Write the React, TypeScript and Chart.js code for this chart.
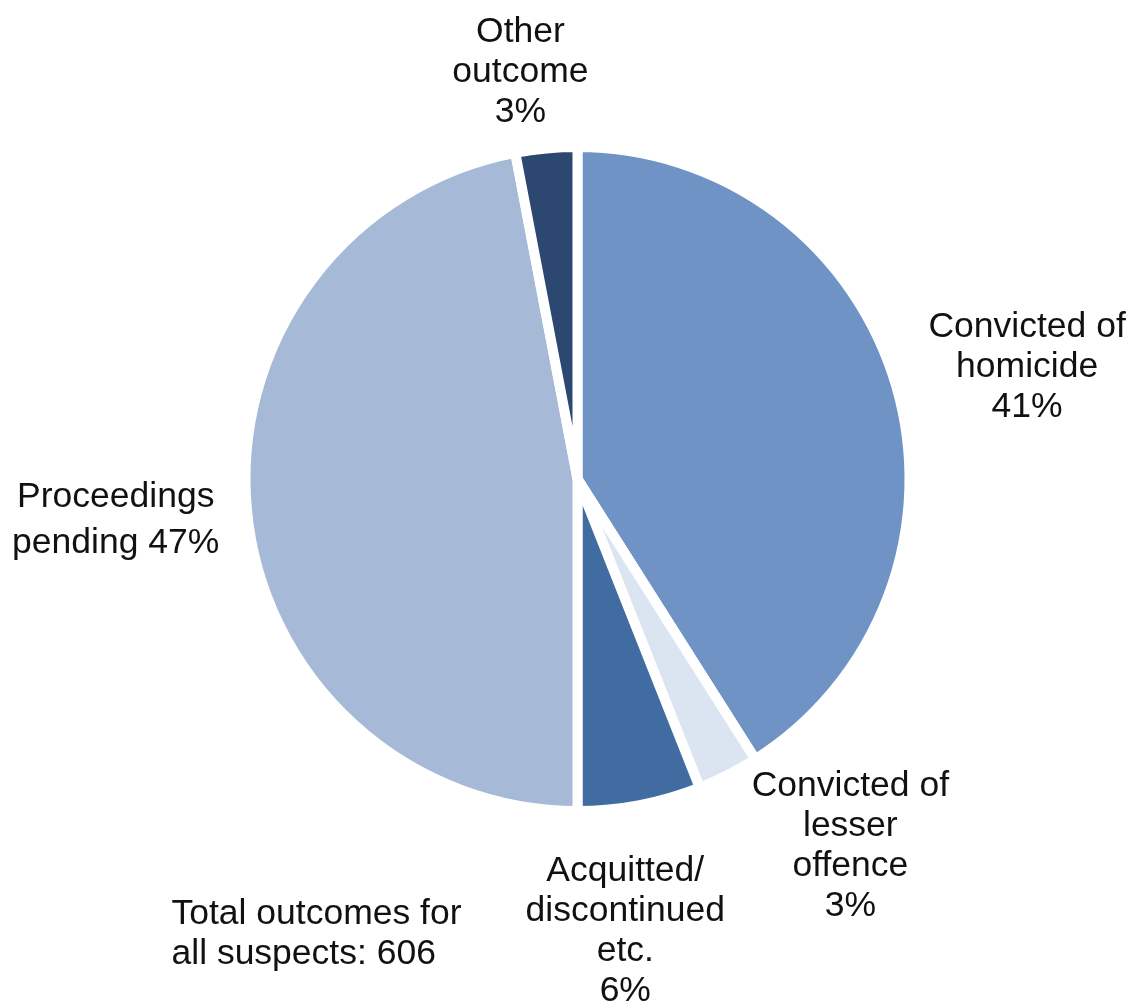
import React, { useEffect, useRef } from "react";
import { Chart, registerables } from "chart.js";

Chart.register(...registerables);

// ---- data ----
const categories: string[] = [
  "Convicted of homicide",
  "Convicted of lesser offence",
  "Acquitted/discontinued etc.",
  "Proceedings pending",
  "Other outcome",
];
const shares: number[] = [41, 3, 6, 47, 3];
const labelLines: string[][] = [
  ["Convicted of", "homicide", "41%"],
  ["Convicted of", "lesser", "offence", "3%"],
  ["Acquitted/", "discontinued", "etc.", "6%"],
  ["Proceedings", "pending 47%"],
  ["Other", "outcome", "3%"],
];
const totalNote: string[] = ["Total outcomes for", "all suspects: 606"];

// ---- styles ----
const sliceColors: string[] = ["#6E93C4", "#DBE4F1", "#416CA2", "#A6BAD8", "#2C4870"];
// label nudges (px) from the point at 1.4 × radius along each slice's mid-angle
const labelNudges: [number, number][] = [
  [10, 26],
  [65, -31],
  [-38, 12],
  [-6, 8],
  [-14, 59],
];
const labelLineHeights: number[] = [40, 40, 40, 46, 40];
const FONT = '35.5px "Liberation Sans", Arial, sans-serif';
const LINE_H = 40;
const BORDER = 10;

const labelPlugin = {
  id: "outsideLabels",
  afterDatasetsDraw(chart: any) {
    const ctx = chart.ctx as CanvasRenderingContext2D;
    const meta = chart.getDatasetMeta(0);
    ctx.save();
    ctx.font = FONT;
    ctx.fillStyle = "#111111";
    ctx.textBaseline = "alphabetic";
    ctx.textAlign = "center";
    meta.data.forEach((arc: any, i: number) => {
      const p = arc.getProps(["x", "y", "startAngle", "endAngle", "outerRadius"], true);
      const mid = (p.startAngle + p.endAngle) / 2;
      const rVis = p.outerRadius - BORDER / 2;
      const d = rVis * 1.4;
      const ax = p.x + Math.cos(mid) * d + labelNudges[i][0];
      const ay = p.y + Math.sin(mid) * d + labelNudges[i][1];
      const lines = labelLines[i];
      const lh = labelLineHeights[i];
      const first = ay - ((lines.length - 1) * lh) / 2;
      lines.forEach((ln, j) => ctx.fillText(ln, ax, first + j * lh));
    });
    // total note
    ctx.textAlign = "left";
    const area = chart.chartArea;
    const nx = area.left - 69;
    const ny = area.bottom + 108;
    totalNote.forEach((ln, j) => ctx.fillText(ln, nx, ny + j * LINE_H));
    ctx.restore();
  },
};

export default function App() {
  const ref = useRef<HTMLCanvasElement | null>(null);
  useEffect(() => {
    document.body.style.margin = "0";
    const canvas = ref.current;
    if (!canvas) return;
    const chart = new Chart(canvas, {
      type: "pie",
      data: {
        labels: categories,
        datasets: [
          {
            data: shares,
            backgroundColor: sliceColors,
            borderColor: "#FFFFFF",
            borderWidth: BORDER,
            borderAlign: "center",
          },
        ],
      },
      options: {
        responsive: false,
        animation: false,
        devicePixelRatio: 1,
        rotation: 0,
        layout: { padding: { left: 240.5, right: 219.5, top: 142, bottom: 192 } },
        plugins: {
          legend: { display: false },
          tooltip: { enabled: false },
        },
        events: [],
      } as any,
      plugins: [labelPlugin],
    });
    return () => chart.destroy();
  }, []);
  return (
    <div style={{ position: "fixed", left: 0, top: 0, width: 1134, height: 1008, background: "#fff" }}>
      <canvas ref={ref} width={1134} height={1008} style={{ width: 1134, height: 1008, display: "block" }} />
    </div>
  );
}
